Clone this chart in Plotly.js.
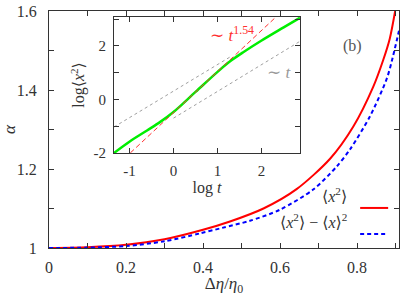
<!DOCTYPE html>
<html><head><meta charset="utf-8">
<script src="https://cdn.plot.ly/plotly-3.0.1.min.js"></script>
<style>
html,body{margin:0;padding:0;background:#fff}
#c svg text{font-family:"Liberation Serif","DejaVu Serif",serif !important;}
</style>
</head><body><div id="c" style="width:407px;height:296px"></div>
<script>
// main panel: alpha vs Δη/η0
const etaRed = [0, 0.1, 0.2, 0.3, 0.4, 0.47, 0.557, 0.643, 0.73, 0.79, 0.842, 0.868, 0.885, 0.899];
const alphaRed = [1, 1.002, 1.008, 1.022, 1.046, 1.067, 1.1, 1.149, 1.226, 1.307, 1.408, 1.476, 1.53, 1.6];
const etaBlue = [0, 0.1, 0.2, 0.3, 0.392, 0.45, 0.522, 0.6, 0.686, 0.747, 0.782, 0.834, 0.877, 0.89, 0.909];
const alphaBlue = [1, 1.001, 1.005, 1.017, 1.037, 1.051, 1.069, 1.097, 1.148, 1.206, 1.25, 1.334, 1.428, 1.472, 1.55];
// inset: log<x^2> vs log t
const logT = [-1.35, -1.0, -0.6, -0.3, 0, 0.5, 1.0, 1.3, 1.6, 2.0, 2.5, 2.87];
const logX2 = [-2.0, -1.58, -1.16, -0.84, -0.47, 0.28, 1.03, 1.44, 1.78, 2.2, 2.69, 3.05];
const fitPowerX = [-0.98, 2.36];
const fitPowerY = [-2.0, 3.13];
const guideUpX = [-1.35, 1.3];
const guideUpY = [-1.03, 1.6];
const guideLowX = [0.0, 2.87];
const guideLowY = [-0.7, 2.17];
const insetXTicks = [-1, 0, 1, 2];
const insetXText = ['-1', '0', '1', '2'];
const insetYTicks = [-2, 0, 2];
const insetYText = ['-2', '0', '2'];
const legendNames = ['⟨<i>x</i><sup>2</sup>⟩', '⟨<i>x</i><sup>2</sup>⟩ − ⟨<i>x</i>⟩<sup>2</sup>'];

const F = 'Liberation Serif, DejaVu Serif, serif';
const TC = '#333';

const traces = [
  {x: etaRed, y: alphaRed, mode: 'lines', line: {color: '#ff0000', width: 2, shape: 'spline', smoothing: 0.8}, xaxis: 'x', yaxis: 'y', showlegend: false},
  {x: etaBlue, y: alphaBlue, mode: 'lines', line: {color: '#0000ff', width: 2, dash: '4px,3px', shape: 'spline', smoothing: 0.8}, xaxis: 'x', yaxis: 'y', showlegend: false},
  {x: guideUpX, y: guideUpY, mode: 'lines', line: {color: '#a0a0a0', width: 1, dash: 'dot'}, xaxis: 'x2', yaxis: 'y2', showlegend: false},
  {x: guideLowX, y: guideLowY, mode: 'lines', line: {color: '#a0a0a0', width: 1, dash: 'dot'}, xaxis: 'x2', yaxis: 'y2', showlegend: false},
  {x: logT, y: logX2, mode: 'lines', line: {color: '#00ee00', width: 2.5, shape: 'spline'}, xaxis: 'x2', yaxis: 'y2', showlegend: false},
  {x: fitPowerX, y: fitPowerY, mode: 'lines', line: {color: '#ff3030', width: 1, dash: '5px,3px'}, xaxis: 'x2', yaxis: 'y2', showlegend: false}
];

const axBase = {showline: true, linecolor: '#333', linewidth: 1, mirror: 'ticks', ticks: 'inside', ticklen: 5, tickcolor: '#333', showgrid: false, zeroline: false,
  tickfont: {family: F, size: 16, color: TC}};

const layout = {
  width: 407, height: 296,
  margin: {l: 49, r: 8, t: 11, b: 48},
  paper_bgcolor: '#fff', plot_bgcolor: '#fff',
  showlegend: false,
  font: {family: F},
  xaxis: Object.assign({}, axBase, {range: [0, 0.909], dtick: 0.2, tick0: 0, ticklabelstandoff: 5,
    minor: {dtick: 0.1, ticks: 'inside', ticklen: 5, tickcolor: '#333'},
    title: {text: 'Δ<i>η</i>/<i>η</i><sub>0</sub>', font: {family: F, size: 17, color: TC}, standoff: 8}}),
  yaxis: Object.assign({}, axBase, {range: [1, 1.6], dtick: 0.2, tick0: 1, ticklabelstandoff: 8,
    minor: {dtick: 0.1, ticks: 'inside', ticklen: 5, tickcolor: '#333'},
    title: {text: '<i>α</i>', font: {family: F, size: 17, color: TC}, standoff: 14}}),
  xaxis2: Object.assign({}, axBase, {domain: [0.1857, 0.717], anchor: 'y2', range: [-1.35, 2.87],
    tickvals: insetXTicks, ticktext: insetXText, ticklabelstandoff: 4, tickfont: {family: F, size: 15, color: TC},
    title: {text: 'log <i>t</i>', font: {family: F, size: 16, color: TC}, standoff: 2}}),
  yaxis2: Object.assign({}, axBase, {domain: [0.401, 0.975], anchor: 'x2', range: [-2, 3.08],
    tickvals: insetYTicks, ticktext: insetYText, ticklabelstandoff: 4, tickfont: {family: F, size: 15, color: TC},
    minor: {dtick: 1, ticks: 'inside', ticklen: 5, tickcolor: '#333'},
    title: {text: 'log⟨<i>x</i><sup>2</sup>⟩', font: {family: F, size: 16, color: TC}, standoff: 4}}),
  annotations: [
    {xref: 'x2', yref: 'y2', x: 1.32, y: 2.45, text: '∼ <i>t</i><sup>1.54</sup>', showarrow: false, font: {family: F, size: 17, color: '#ff3030'}},
    {xref: 'x2', yref: 'y2', x: 2.4, y: 1.0, text: '∼ <i>t</i>', showarrow: false, font: {family: F, size: 17, color: '#999'}},
    {xref: 'paper', yref: 'paper', x: 0.9, y: 0.899, text: '(b)', showarrow: false, font: {family: F, size: 16, color: '#555'}},
    {xref: 'paper', yref: 'paper', x: 0.856, y: 0.172, xanchor: 'right', text: legendNames[0], showarrow: false, font: {family: F, size: 16, color: TC}},
    {xref: 'paper', yref: 'paper', x: 0.856, y: 0.062, xanchor: 'right', text: legendNames[1], showarrow: false, font: {family: F, size: 16, color: TC}}
  ],
  shapes: [
    {type: 'line', xref: 'paper', yref: 'paper', x0: 0.889, x1: 0.969, y0: 0.169, y1: 0.169, line: {color: '#ff0000', width: 2}},
    {type: 'line', xref: 'paper', yref: 'paper', x0: 0.889, x1: 0.969, y0: 0.059, y1: 0.059, line: {color: '#0000ff', width: 2, dash: '4px,3px'}}
  ]
};
Plotly.newPlot('c', traces, layout, {displayModeBar: false, staticPlot: true});
</script></body></html>
